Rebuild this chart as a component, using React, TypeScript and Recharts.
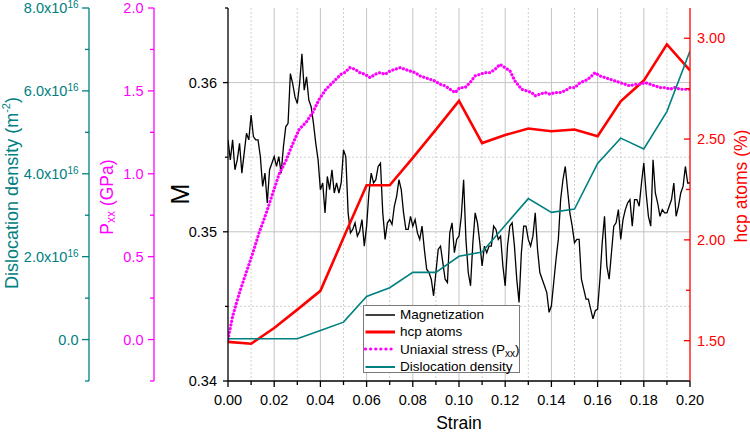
import React from 'react';
import { LineChart, Line, XAxis, YAxis, CartesianGrid, Legend } from 'recharts';

const FONT = '"Liberation Sans", Arial, Helvetica, sans-serif';
const TEAL = '#008080';
const MAGENTA = '#ff00ff';
const RED = '#ff0000';
const BLACK = '#000000';

// ---- data ----
const strainSteps = [0, 0.01, 0.02, 0.03, 0.04, 0.05, 0.06, 0.07, 0.08, 0.09, 0.1, 0.11, 0.12, 0.13, 0.14, 0.15, 0.16, 0.17, 0.18, 0.19, 0.2];
const hcpAtoms = [1.494, 1.485, 1.563, 1.654, 1.747, 2.01, 2.271, 2.271, 2.407, 2.547, 2.689, 2.48, 2.52, 2.552, 2.539, 2.547, 2.514, 2.687, 2.79, 2.97, 2.84];
const dislocationDensity = [0.02e16, 0.02e16, 0.02e16, 0.02e16, 0.22e16, 0.42e16, 1.04e16, 1.25e16, 1.62e16, 1.62e16, 2.01e16, 2.11e16, 2.76e16, 3.4e16, 3.07e16, 3.15e16, 4.25e16, 4.86e16, 4.6e16, 5.5e16, 6.96e16];

const magnetizationStep = 0.001;
const magnetization = [
  0.35616, 0.35482, 0.35616, 0.35416, 0.35482, 0.35593, 0.35393, 0.35527, 0.3566, 0.35616,
  0.35782, 0.35638, 0.35616, 0.35616, 0.35504, 0.35304, 0.35393, 0.35193, 0.35416, 0.3546,
  0.35504, 0.35438, 0.35504, 0.35393, 0.35571, 0.35704, 0.35727, 0.3606, 0.35993, 0.35904,
  0.3586, 0.35993, 0.36193, 0.35949, 0.36038, 0.35882, 0.35838, 0.35727, 0.35593, 0.35482,
  0.35282, 0.35327, 0.35127, 0.35371, 0.35282, 0.35416, 0.3526, 0.35327, 0.3526, 0.35327,
  0.35549, 0.35504, 0.35127, 0.34993, 0.35016, 0.3506, 0.34971, 0.35004, 0.35082, 0.34904,
  0.35038, 0.3526, 0.35393, 0.35327, 0.35349, 0.35438, 0.3546, 0.35127, 0.34949, 0.3506,
  0.35082, 0.35049, 0.35171, 0.35238, 0.35349, 0.35282, 0.35127, 0.35016, 0.35016, 0.35104,
  0.35038, 0.35082, 0.34993, 0.34949, 0.35038, 0.34882, 0.34749, 0.34727, 0.34682, 0.34571,
  0.34727, 0.34882, 0.34904, 0.34793, 0.34682, 0.3466, 0.34993, 0.3506, 0.3486, 0.34949,
  0.34971, 0.35104, 0.35349, 0.34949, 0.34727, 0.34638, 0.34927, 0.35127, 0.3506, 0.34927,
  0.34771, 0.34904, 0.3486, 0.34904, 0.34904, 0.35038, 0.35016, 0.34949, 0.34971, 0.34771,
  0.34638, 0.34904, 0.35038, 0.3506, 0.34904, 0.34682, 0.34527, 0.3486, 0.35038, 0.35038,
  0.34949, 0.34904, 0.34971, 0.35127, 0.34882, 0.34727, 0.34682, 0.34638, 0.34593, 0.3446,
  0.34504, 0.3466, 0.34816, 0.34949, 0.35216, 0.35349, 0.35438, 0.35282, 0.35127, 0.35038,
  0.34927, 0.34949, 0.34949, 0.34682, 0.34616, 0.34549, 0.34549, 0.34482, 0.34416, 0.34471,
  0.34482, 0.34682, 0.34927, 0.35104, 0.34771, 0.34682, 0.3486, 0.35038, 0.3506, 0.35149,
  0.34949, 0.35082, 0.35149, 0.35193, 0.35216, 0.35038, 0.35216, 0.35216, 0.35171, 0.35327,
  0.3546, 0.3526, 0.35104, 0.35038, 0.35482, 0.3526, 0.35193, 0.35104, 0.35149, 0.35127,
  0.35127, 0.35171, 0.35216, 0.35327, 0.35104, 0.35171, 0.3526, 0.35304, 0.35438, 0.35327, 0.35327,
];

const pxxStrain = [
  0, 0.002, 0.0049, 0.0078, 0.0107, 0.0136, 0.0165, 0.0193, 0.0222, 0.0251, 0.028, 0.0309, 0.0338, 0.0367, 0.0395,
  0.0424, 0.0453, 0.0489, 0.0504, 0.0528, 0.055, 0.0571, 0.0593, 0.0615, 0.0637, 0.0658, 0.068, 0.0701, 0.0723,
  0.0745, 0.0766, 0.0788, 0.081, 0.0831, 0.0853, 0.0874, 0.0896, 0.0918, 0.094, 0.0961, 0.0983, 0.1004, 0.1026,
  0.1048, 0.1069, 0.1091, 0.1113, 0.1134, 0.1156, 0.1177, 0.1199, 0.1221, 0.1242, 0.1271, 0.1293, 0.1315, 0.1329,
  0.135, 0.1372, 0.1394, 0.1416, 0.1437, 0.1459, 0.148, 0.1502, 0.1524, 0.1545, 0.1567, 0.1589, 0.161, 0.1632,
  0.1654, 0.1675, 0.1697, 0.1719, 0.174, 0.1762, 0.1784, 0.1805, 0.1827, 0.1849, 0.187, 0.1892, 0.1913, 0.1935,
  0.1957, 0.1978, 0.2,
];
const pxxValues = [
  0.0, 0.14, 0.28, 0.4, 0.52, 0.65, 0.76, 0.88, 1.0, 1.08, 1.18, 1.27, 1.31, 1.37, 1.45,
  1.51, 1.55, 1.6, 1.61, 1.64, 1.63, 1.61, 1.6, 1.58, 1.6, 1.61, 1.6, 1.62, 1.63,
  1.64, 1.63, 1.62, 1.61, 1.59, 1.58, 1.57, 1.56, 1.54, 1.53, 1.51, 1.49, 1.52, 1.52,
  1.55, 1.59, 1.6, 1.61, 1.61, 1.63, 1.66, 1.64, 1.62, 1.56, 1.51, 1.5, 1.49, 1.47,
  1.48, 1.49, 1.48, 1.49, 1.49, 1.5, 1.52, 1.52, 1.55, 1.56, 1.58, 1.61, 1.59, 1.58,
  1.57, 1.56, 1.55, 1.54, 1.53, 1.54, 1.54, 1.55, 1.54, 1.53, 1.52, 1.52, 1.51, 1.52,
  1.51, 1.51, 1.51,
];

// ---- ticks ----
const xTicks = [0, 0.01, 0.02, 0.03, 0.04, 0.05, 0.06, 0.07, 0.08, 0.09, 0.1, 0.11, 0.12, 0.13, 0.14, 0.15, 0.16, 0.17, 0.18, 0.19, 0.2];
const xMajor = [0, 0.02, 0.04, 0.06, 0.08, 0.1, 0.12, 0.14, 0.16, 0.18, 0.2];
const mTicks = [0.34, 0.345, 0.35, 0.355, 0.36, 0.365];
const mMajor = [0.34, 0.35, 0.36];
const pTicks = [-0.25, 0, 0.25, 0.5, 0.75, 1, 1.25, 1.5, 1.75, 2];
const pMajor = [0, 0.5, 1, 1.5, 2];
const dTicks = [-1e16, 0, 1e16, 2e16, 3e16, 4e16, 5e16, 6e16, 7e16, 8e16];
const dMajor = [0, 2e16, 4e16, 6e16, 8e16];
const hTicks = [1.5, 1.75, 2, 2.25, 2.5, 2.75, 3];
const hMajor = [1.5, 2, 2.5, 3];
const gridXMajor = [0.02, 0.04, 0.06, 0.08, 0.1, 0.12, 0.14, 0.16, 0.18];
const gridXMinor = [0.01, 0.03, 0.05, 0.07, 0.09, 0.11, 0.13, 0.15, 0.17, 0.19];
const gridMMajor = [0.35, 0.36];
const gridMMinor = [0.345, 0.355];

const hcpData = strainSteps.map((s, i) => ({ strain: s, hcp: hcpAtoms[i], disl: dislocationDensity[i] }));
const magData = magnetization.map((m, i) => ({ strain: +(i * magnetizationStep).toFixed(4), M: m }));
const pxxData = pxxStrain.map((s, i) => ({ strain: s, pxx: pxxValues[i] }));

// axis ids (sorted order = distance from plot: a closest)
const AX_M = 'a_M';
const AX_P = 'b_P';
const AX_D = 'c_D';
const AX_H = 'h_H';

const isIn = (v: number, list: number[]) =>
  list.some((a) => Math.abs(a - v) <= 1e-6 * (Math.abs(a) + Math.abs(v)) + 1e-12);

type TickOpts = {
  major: number[];
  color: string;
  majorLen: number;
  minorLen: number;
  gap: number;
  fmt: (v: number) => React.ReactNode;
};

const makeLeftTick = (o: TickOpts) => (props: any) => {
  const { x, y, payload } = props;
  const major = isIn(payload.value, o.major);
  return (
    <g>
      <line x1={x} y1={y} x2={x - (major ? o.majorLen : o.minorLen)} y2={y} stroke={o.color} strokeWidth={1.3} />
      {major && (
        <text x={x - o.gap} y={y} dy="0.36em" textAnchor="end" fill={o.color} fontSize={14.5} fontFamily={FONT}>
          {o.fmt(payload.value)}
        </text>
      )}
    </g>
  );
};

const RightTick = (props: any) => {
  const { x, y, payload } = props;
  const major = isIn(payload.value, hMajor);
  return (
    <g>
      <line x1={x} y1={y} x2={x - (major ? 6 : 4)} y2={y} stroke={RED} strokeWidth={1.3} />
      {major && (
        <text x={x + 7} y={y} dy="0.36em" textAnchor="start" fill={RED} fontSize={14.5} fontFamily={FONT}>
          {payload.value.toFixed(2)}
        </text>
      )}
    </g>
  );
};

const XTick = (props: any) => {
  const { x, y, payload } = props;
  const major = isIn(payload.value, xMajor);
  return (
    <g>
      <line x1={x} y1={y} x2={x} y2={y + (major ? 6 : 4)} stroke={BLACK} strokeWidth={1.3} />
      {major && (
        <text x={x} y={y + 24} textAnchor="middle" fill={BLACK} fontSize={14.5} fontFamily={FONT}>
          {payload.value.toFixed(2)}
        </text>
      )}
    </g>
  );
};

const MTick = makeLeftTick({ major: mMajor, color: BLACK, majorLen: 5, minorLen: 3, gap: 11, fmt: (v) => v.toFixed(2) });
const PTick = makeLeftTick({ major: pMajor, color: MAGENTA, majorLen: 6, minorLen: 4, gap: 10.5, fmt: (v) => v.toFixed(1) });
const DTick = makeLeftTick({
  major: dMajor,
  color: TEAL,
  majorLen: 7,
  minorLen: 4,
  gap: 10.5,
  fmt: (v) =>
    v === 0 ? (
      '0.0'
    ) : (
      <>
        {(v / 1e16).toFixed(1) + 'x10'}
        <tspan dy={-5} fontSize={10}>16</tspan>
      </>
    ),
});

const VTitle = ({ cx, cy, color, size, children }: any) => (
  <text
    x={cx}
    y={cy}
    transform={`rotate(-90 ${cx} ${cy})`}
    textAnchor="middle"
    dominantBaseline="central"
    fill={color}
    fontSize={size}
    fontFamily={FONT}
  >
    {children}
  </text>
);

const legendItems = [
  { key: 'mag', label: <>Magnetization</>, color: BLACK, width: 1.5, dash: undefined as string | undefined },
  { key: 'hcp', label: <>hcp atoms</>, color: RED, width: 3, dash: undefined as string | undefined },
  {
    key: 'pxx',
    label: (
      <>
        Uniaxial stress (P<sub style={{ fontSize: 10, verticalAlign: -3, lineHeight: 0 }}>xx</sub>)
      </>
    ),
    color: MAGENTA,
    width: 3.2,
    dash: '0.1 5',
  },
  { key: 'dis', label: <>Dislocation density</>, color: TEAL, width: 2, dash: undefined as string | undefined },
];

const LegendBox = () => (
  <div
    style={{
      width: 157,
      height: 68,
      boxSizing: 'border-box',
      border: '1px solid #7a7a7a',
      background: '#ffffff',
      fontFamily: FONT,
      fontSize: 13.5,
      color: '#000',
    }}
  >
    {legendItems.map((it) => (
      <div key={it.key} style={{ height: 17.3, display: 'flex', alignItems: 'center', whiteSpace: 'nowrap' }}>
        <svg width={34} height={10} style={{ display: 'block', flex: 'none' }}>
          <line
            x1={1.5}
            x2={31}
            y1={5}
            y2={5}
            stroke={it.color}
            strokeWidth={it.width}
            strokeDasharray={it.dash}
            strokeLinecap={it.dash ? 'round' : 'butt'}
          />
        </svg>
        <span style={{ marginLeft: 2, lineHeight: '17px' }}>{it.label}</span>
      </div>
    ))}
  </div>
);

export default function App() {
  return (
    <div style={{ position: 'absolute', left: 0, top: 0, width: 750, height: 432, background: '#fff' }}>
      <LineChart width={750} height={432} margin={{ top: 8, right: 0, bottom: 0, left: 0 }}>
        <XAxis
          xAxisId="x"
          type="number"
          dataKey="strain"
          domain={[0, 0.2]}
          allowDataOverflow
          ticks={xTicks}
          interval={0}
          height={51}
          tickSize={0}
          tickMargin={0}
          tickLine={false}
          tick={XTick}
          axisLine={{ stroke: BLACK, strokeWidth: 1.3 }}
          label={() => (
            <text x={459} y={429} textAnchor="middle" fill={BLACK} fontSize={17.5} fontFamily={FONT}>
              Strain
            </text>
          )}
        />
        <XAxis
          xAxisId="top"
          orientation="top"
          type="number"
          domain={[0, 0.2]}
          allowDataOverflow
          height={0}
          tick={false}
          tickLine={false}
          axisLine={{ stroke: BLACK, strokeWidth: 1.3 }}
        />
        <YAxis
          yAxisId={AX_M}
          orientation="left"
          type="number"
          domain={[0.34, 0.365]}
          allowDataOverflow
          ticks={mTicks}
          interval={0}
          width={74}
          tickSize={0}
          tickMargin={0}
          tickLine={false}
          tick={MTick}
          axisLine={{ stroke: BLACK, strokeWidth: 1.3 }}
          label={() => (
            <VTitle cx={180} cy={194} color={BLACK} size={25}>
              M
            </VTitle>
          )}
        />
        <YAxis
          yAxisId={AX_P}
          orientation="left"
          type="number"
          domain={[-0.25, 2]}
          allowDataOverflow
          ticks={pTicks}
          interval={0}
          width={65}
          tickSize={0}
          tickMargin={0}
          tickLine={false}
          tick={PTick}
          axisLine={{ stroke: MAGENTA, strokeWidth: 1.3 }}
          label={() => (
            <VTitle cx={107} cy={197} color={MAGENTA} size={17.5}>
              P<tspan dy={4} fontSize={12}>xx</tspan>
              <tspan dy={-4}> (GPa)</tspan>
            </VTitle>
          )}
        />
        <YAxis
          yAxisId={AX_D}
          orientation="left"
          type="number"
          domain={[-1e16, 8e16]}
          allowDataOverflow
          ticks={dTicks}
          interval={0}
          width={89}
          tickSize={0}
          tickMargin={0}
          tickLine={false}
          tick={DTick}
          axisLine={{ stroke: TEAL, strokeWidth: 1.3 }}
          label={() => (
            <VTitle cx={12} cy={193} color={TEAL} size={18}>
              Dislocation density (m<tspan dy={-6} fontSize={11}>-2</tspan>
              <tspan dy={6}>)</tspan>
            </VTitle>
          )}
        />
        <YAxis
          yAxisId={AX_H}
          orientation="right"
          type="number"
          domain={[1.3, 3.15]}
          allowDataOverflow
          ticks={hTicks}
          interval={0}
          width={60}
          tickSize={0}
          tickMargin={0}
          tickLine={false}
          tick={RightTick}
          axisLine={{ stroke: RED, strokeWidth: 1.3 }}
          label={() => (
            <VTitle cx={741} cy={186} color={RED} size={17.5}>
              hcp atoms (%)
            </VTitle>
          )}
        />
        <CartesianGrid
          xAxisId="x"
          yAxisId={AX_M}
          stroke="#c4c4c4"
          strokeWidth={1}
          verticalValues={gridXMajor}
          horizontalValues={gridMMajor}
        />
        <CartesianGrid
          xAxisId="x"
          yAxisId={AX_M}
          stroke="#d0d0d0"
          strokeWidth={1}
          strokeDasharray="2 2"
          verticalValues={gridXMinor}
          horizontalValues={gridMMinor}
        />
        <Line
          data={magData}
          xAxisId="x"
          yAxisId={AX_M}
          dataKey="M"
          name="Magnetization"
          stroke={BLACK}
          strokeWidth={1.3}
          dot={false}
          activeDot={false}
          isAnimationActive={false}
          type="linear"
        />
        <Line
          data={hcpData}
          xAxisId="x"
          yAxisId={AX_H}
          dataKey="hcp"
          name="hcp atoms"
          stroke={RED}
          strokeWidth={2.6}
          dot={false}
          activeDot={false}
          isAnimationActive={false}
          type="linear"
        />
        <Line
          data={pxxData}
          xAxisId="x"
          yAxisId={AX_P}
          dataKey="pxx"
          name="Uniaxial stress"
          stroke={MAGENTA}
          strokeWidth={3.2}
          strokeDasharray="0.1 3.6"
          strokeLinecap="round"
          dot={false}
          activeDot={false}
          isAnimationActive={false}
          type="linear"
        />
        <Line
          data={hcpData}
          xAxisId="x"
          yAxisId={AX_D}
          dataKey="disl"
          name="Dislocation density"
          stroke={TEAL}
          strokeWidth={1.6}
          dot={false}
          activeDot={false}
          isAnimationActive={false}
          type="linear"
        />
        <Legend
          layout="vertical"
          align="center"
          verticalAlign="middle"
          content={() => <LegendBox />}
          wrapperStyle={{ left: 363, top: 305, width: 157, height: 68 }}
        />
      </LineChart>
    </div>
  );
}
